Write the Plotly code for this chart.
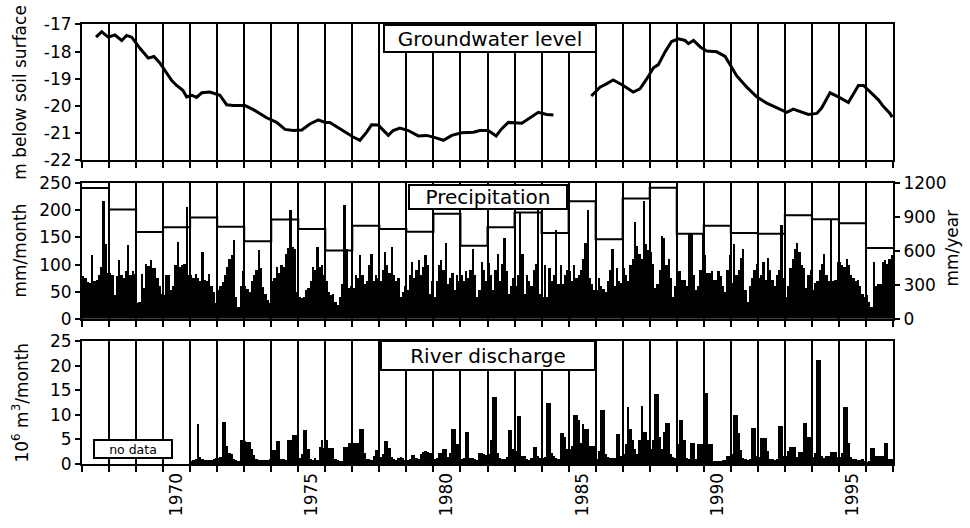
import plotly.graph_objects as go

# ---------------- data ----------------
years = list(range(1967, 1997))
x_end = 1997
label_years = [1970, 1975, 1980, 1985, 1990, 1995]

gw_ticks = [-22, -21, -20, -19, -18, -17]
precip_ticks = [0, 50, 100, 150, 200, 250]
annual_ticks = [0, 300, 600, 900, 1200]
discharge_ticks = [0, 5, 10, 15, 20, 25]

# groundwater level (m below soil surface), gap = no observations
gw_time = [1967.52, 1967.73, 1967.97, 1968.22, 1968.47, 1968.65, 1968.84, 1969.15, 1969.45, 1969.66,
           1969.88, 1970.13, 1970.32, 1970.50, 1970.73, 1970.87, 1971.06, 1971.24, 1971.43, 1971.73,
           1972.10, 1972.35, 1972.60, 1973.03, 1973.34, 1973.83, 1974.20, 1974.51, 1974.82, 1975.13,
           1975.43, 1975.74, 1975.99, 1976.17, 1976.66, 1977.03, 1977.28, 1977.53, 1977.71, 1977.96,
           1978.33, 1978.51, 1978.76, 1979.07, 1979.44, 1979.75, 1980.06, 1980.37, 1980.68, 1981.04,
           1981.48, 1981.72, 1982.03, 1982.32, 1982.52, 1982.77, 1983.27, 1983.57, 1983.88, 1984.19,
           1984.44, None,
           1985.84, 1986.16, 1986.40, 1986.65, 1987.02, 1987.39, 1987.64, 1987.89, 1988.14, 1988.32,
           1988.57, 1988.81, 1989.06, 1989.31, 1989.43, 1989.62, 1989.87, 1990.11, 1990.48, 1990.79,
           1990.97, 1991.22, 1991.59, 1991.96, 1992.33, 1992.70, 1993.07, 1993.31, 1993.56, 1993.87,
           1994.18, 1994.36, 1994.67, 1994.98, 1995.35, 1995.72, 1995.91, 1996.21, 1996.46, 1996.64,
           1996.89, 1996.97]
gw_level = [-17.47, -17.27, -17.47, -17.39, -17.59, -17.41, -17.47, -17.89, -18.24, -18.18,
            -18.42, -18.78, -19.07, -19.25, -19.43, -19.67, -19.61, -19.69, -19.52, -19.49,
            -19.61, -19.96, -19.99, -19.99, -20.14, -20.44, -20.61, -20.87, -20.91, -20.89,
            -20.67, -20.52, -20.61, -20.61, -20.91, -21.15, -21.27, -20.97, -20.70, -20.71,
            -21.09, -20.91, -20.82, -20.91, -21.11, -21.09, -21.17, -21.27, -21.09, -20.99,
            -20.97, -20.91, -20.91, -21.11, -20.85, -20.61, -20.64, -20.44, -20.24, -20.32,
            -20.34, None,
            -19.64, -19.31, -19.19, -19.05, -19.25, -19.49, -19.37, -19.01, -18.60, -18.48,
            -18.01, -17.63, -17.53, -17.59, -17.71, -17.59, -17.83, -17.98, -18.01, -18.18,
            -18.48, -18.90, -19.31, -19.67, -19.90, -20.08, -20.24, -20.12, -20.20, -20.32,
            -20.28, -20.08, -19.52, -19.67, -19.88, -19.25, -19.25, -19.52, -19.78, -20.02,
            -20.28, -20.42]

# monthly precipitation (mm/month), one row per year 1967..1996
precip_monthly = [
    [78, 75, 68, 65, 117, 70, 72, 80, 95, 217, 137, 85],
    [84, 80, 43, 78, 108, 80, 75, 87, 136, 80, 88, 82],
    [28, 30, 83, 57, 100, 97, 108, 94, 93, 75, 60, 45],
    [43, 81, 81, 52, 60, 98, 142, 96, 99, 100, 206, 81],
    [80, 75, 82, 75, 70, 123, 72, 70, 82, 60, 50, 28],
    [53, 60, 68, 80, 96, 110, 118, 145, 40, 22, 60, 87],
    [60, 55, 49, 70, 81, 90, 126, 93, 59, 46, 35, 28],
    [69, 75, 96, 85, 99, 95, 120, 130, 200, 132, 129, 49],
    [40, 38, 40, 52, 57, 70, 95, 90, 132, 96, 99, 80],
    [70, 50, 43, 46, 30, 25, 40, 63, 209, 129, 57, 60],
    [57, 81, 75, 117, 81, 63, 70, 99, 120, 69, 81, 75],
    [69, 90, 123, 99, 85, 132, 81, 69, 75, 40, 49, 60],
    [52, 80, 105, 75, 90, 108, 81, 95, 117, 99, 46, 70],
    [40, 70, 99, 108, 90, 140, 63, 75, 85, 52, 81, 70],
    [81, 69, 87, 75, 90, 129, 81, 40, 52, 105, 90, 70],
    [102, 81, 52, 90, 120, 69, 100, 149, 87, 46, 60, 75],
    [60, 80, 194, 120, 46, 81, 70, 60, 90, 100, 211, 46],
    [40, 99, 40, 93, 70, 80, 164, 63, 99, 63, 81, 90],
    [87, 70, 99, 75, 80, 90, 110, 140, 200, 75, 63, 52],
    [52, 75, 60, 55, 50, 70, 90, 129, 60, 93, 70, 65],
    [93, 80, 70, 99, 110, 179, 134, 120, 110, 217, 137, 126],
    [123, 100, 57, 63, 90, 152, 149, 99, 110, 75, 40, 60],
    [87, 87, 72, 72, 60, 158, 158, 80, 52, 60, 90, 158],
    [117, 84, 84, 87, 72, 72, 87, 78, 60, 50, 90, 117],
    [66, 137, 81, 90, 111, 129, 52, 31, 60, 75, 90, 100],
    [75, 80, 105, 72, 111, 90, 72, 60, 80, 90, 173, 75],
    [40, 60, 93, 110, 129, 140, 123, 99, 93, 57, 80, 90],
    [52, 66, 70, 90, 100, 120, 80, 70, 182, 69, 72, 105],
    [105, 99, 95, 110, 99, 80, 75, 69, 72, 60, 46, 40],
    [43, 30, 22, 105, 60, 63, 63, 105, 108, 100, 110, 117],
]

# annual precipitation (mm/year) 1967..1996
precip_yearly = [1157, 968, 769, 811, 896, 814, 687, 879, 794, 604,
                 823, 795, 770, 930, 647, 810, 940, 760, 1040, 704,
                 1065, 1160, 752, 823, 760, 752, 916, 882, 845, 627]

# monthly river discharge (10^6 m3/month), one row per year 1971..1996
discharge_start = 1971
discharge_monthly = [
    [0.6, 0.8, 1.0, 8.2, 1.5, 1.0, 0.9, 0.9, 0.9, 0.9, 1.0, 1.2],
    [1.2, 1.5, 8.5, 8.5, 3.6, 2.3, 2.0, 1.0, 0.8, 0.7, 4.9, 4.9],
    [4.6, 4.5, 4.5, 3.0, 1.8, 1.0, 0.8, 0.8, 0.8, 0.8, 0.9, 1.0],
    [2.8, 2.8, 4.8, 4.8, 1.0, 1.0, 0.8, 4.9, 4.9, 5.9, 6.0, 6.0],
    [1.2, 2.0, 6.9, 6.9, 3.0, 1.0, 0.8, 1.3, 0.8, 3.5, 4.9, 3.2],
    [4.9, 3.2, 3.2, 3.2, 1.0, 0.8, 0.7, 0.7, 3.4, 3.4, 4.2, 4.2],
    [4.2, 4.3, 4.3, 7.1, 7.1, 2.3, 1.0, 1.0, 0.9, 1.6, 2.8, 2.8],
    [1.5, 2.0, 4.6, 4.6, 3.3, 1.5, 1.0, 0.9, 1.2, 1.4, 1.2, 0.9],
    [0.9, 1.0, 1.8, 1.8, 1.2, 1.0, 2.0, 2.4, 2.6, 2.4, 2.3, 2.3],
    [1.0, 1.2, 2.3, 2.3, 3.1, 3.1, 1.5, 2.3, 7.1, 7.1, 4.0, 4.0],
    [1.0, 1.3, 6.6, 6.6, 1.3, 1.2, 1.0, 0.9, 2.3, 2.3, 2.1, 1.8],
    [2.0, 5.0, 13.7, 13.7, 2.3, 1.3, 1.0, 1.0, 1.5, 6.9, 6.9, 3.0],
    [2.6, 9.8, 9.8, 1.6, 1.6, 1.0, 0.8, 1.3, 3.5, 3.5, 1.6, 1.2],
    [1.2, 1.5, 12.4, 12.4, 2.3, 1.6, 1.2, 1.0, 6.3, 6.3, 5.6, 3.0],
    [3.0, 3.6, 10.0, 10.0, 8.9, 4.3, 8.1, 7.1, 7.1, 3.6, 3.6, 3.6],
    [1.0, 2.6, 11.0, 11.0, 2.0, 1.5, 1.2, 1.2, 1.3, 6.1, 6.1, 1.6],
    [2.0, 4.0, 11.6, 7.1, 5.0, 3.0, 2.0, 5.0, 11.9, 6.6, 6.6, 5.0],
    [3.0, 5.0, 14.3, 14.3, 5.6, 3.0, 6.6, 8.4, 8.4, 2.0, 1.5, 1.2],
    [4.0, 8.9, 8.9, 5.0, 1.3, 1.0, 4.3, 4.3, 1.0, 4.1, 4.1, 4.1],
    [14.5, 14.5, 4.1, 4.1, 0.7, 0.7, 0.6, 0.6, 0.8, 0.9, 1.6, 1.6],
    [2.0, 10.0, 10.0, 6.3, 2.8, 1.2, 1.0, 0.8, 1.0, 7.3, 7.3, 1.6],
    [1.5, 5.4, 5.4, 5.4, 2.6, 1.0, 1.0, 0.8, 1.0, 7.8, 7.8, 1.6],
    [1.6, 2.6, 3.4, 3.4, 3.4, 1.5, 2.4, 2.4, 8.4, 8.4, 5.6, 5.6],
    [1.5, 2.3, 21.1, 21.1, 1.6, 1.2, 1.6, 1.6, 2.4, 2.4, 2.4, 1.5],
    [1.5, 2.3, 11.6, 11.6, 4.3, 1.5, 1.0, 1.0, 0.9, 0.8, 1.0, 0.6],
    [0.5, 0.7, 3.2, 3.2, 1.6, 1.6, 1.6, 1.6, 4.3, 4.3, 1.0, 1.0],
]

# ---------------- build series ----------------
p_x, p_y = [], []
for yi, yr in enumerate(years):
    for m, v in enumerate(precip_monthly[yi]):
        p_x.append(yr + (m + 0.5) / 12)
        p_y.append(v)

d_x, d_y = [], []
for yi, row in enumerate(discharge_monthly):
    yr = discharge_start + yi
    for m, v in enumerate(row):
        d_x.append(yr + (m + 0.5) / 12)
        d_y.append(v)

year_edges = years + [x_end]
annual_step = precip_yearly + [precip_yearly[-1]]

# ---------------- figure ----------------
FONT = "DejaVu Sans"
W, H = 970, 528
xdom = [82 / W, 893 / W]
dom_top = [1 - 156 / H, 1 - 15 / H]
dom_mid = [1 - 321 / H, 1 - 180 / H]
dom_bot = [1 - 472 / H, 1 - 344 / H]

fig = go.Figure()
fig.add_trace(go.Scatter(x=gw_time, y=gw_level, mode="lines",
                         line=dict(color="black", width=3), connectgaps=False,
                         xaxis="x", yaxis="y", hoverinfo="skip"))
fig.add_trace(go.Bar(x=p_x, y=p_y, width=1 / 12,
                     marker=dict(color="black", line=dict(width=0)),
                     xaxis="x2", yaxis="y2"))
fig.add_trace(go.Scatter(x=year_edges, y=annual_step, mode="lines",
                         line=dict(color="black", width=2, shape="hv"),
                         xaxis="x2", yaxis="y4"))
fig.add_trace(go.Bar(x=d_x, y=d_y, width=1 / 12,
                     marker=dict(color="black", line=dict(width=0)),
                     xaxis="x3", yaxis="y3"))


def xaxis(anchor, labels):
    return dict(
        domain=xdom, anchor=anchor, range=[years[0], x_end],
        showline=True, mirror=True, linecolor="black", linewidth=2,
        zeroline=False, showgrid=False,
        tickmode="array", tickvals=[y + 0.5 for y in label_years],
        ticktext=[str(y) for y in label_years], ticks="",
        showticklabels=labels, tickangle=-90,
        tickfont=dict(family=FONT, size=17, color="black"),
        minor=dict(tickmode="array", tickvals=year_edges, ticks="outside",
                   ticklen=6, tickwidth=2, tickcolor="black",
                   showgrid=True, gridcolor="black", gridwidth=2),
    )


def yaxis(dom, anchor, rng, vals, side="left", **kw):
    d = dict(
        domain=dom, anchor=anchor, range=rng, side=side,
        tickmode="array", tickvals=vals, ticktext=[str(v) for v in vals],
        ticks="outside", ticklen=5, tickwidth=2, tickcolor="black",
        showline=True, linecolor="black", linewidth=2,
        showgrid=False, zeroline=False,
        tickfont=dict(family=FONT, size=17, color="black"),
    )
    d.update(kw)
    return d


fig.update_layout(
    width=W, height=H,
    margin=dict(l=0, r=0, t=0, b=0),
    paper_bgcolor="white", plot_bgcolor="white",
    showlegend=False, bargap=0,
    font=dict(family=FONT, size=17, color="black"),
    xaxis=xaxis("y", False),
    xaxis2=xaxis("y2", False),
    xaxis3=xaxis("y3", True),
    yaxis=yaxis(dom_top, "x", [gw_ticks[0], gw_ticks[-1]], gw_ticks, mirror=True),
    yaxis2=yaxis(dom_mid, "x2", [precip_ticks[0], precip_ticks[-1]], precip_ticks, mirror=True),
    yaxis3=yaxis(dom_bot, "x3", [discharge_ticks[0], discharge_ticks[-1]], discharge_ticks, mirror=True),
    yaxis4=yaxis(dom_mid, "x2", [annual_ticks[0], annual_ticks[-1]], annual_ticks,
                 side="right", overlaying="y2"),
)

box = dict(showarrow=False, bgcolor="white", bordercolor="black", borderwidth=2,
           borderpad=0, xref="paper", yref="paper", xanchor="center", yanchor="middle")
fig.add_annotation(text="Groundwater level", x=490 / W, y=1 - 29.5 / H,
                   width=210, height=25, font=dict(family=FONT, size=20), **box)
fig.add_annotation(text="Precipitation", x=488 / W, y=1 - 194 / H,
                   width=156, height=22, font=dict(family=FONT, size=20), **box)
fig.add_annotation(text="River discharge", x=488 / W, y=1 - 359.5 / H,
                   width=212, height=27, font=dict(family=FONT, size=20), **box)
fig.add_annotation(text="no data", x=133 / W, y=1 - 456 / H,
                   width=76, height=16, font=dict(family=FONT, size=12.5), **box)

title = dict(showarrow=False, xref="paper", yref="paper", textangle=-90,
             xanchor="center", yanchor="middle", font=dict(family=FONT, size=17))
fig.add_annotation(text="m below soil surface", x=20 / W, y=1 - 86 / H, **title)
fig.add_annotation(text="mm/month", x=20 / W, y=1 - 250 / H, **title)
fig.add_annotation(text="10<sup>6</sup> m<sup>3</sup>/month", x=20 / W, y=1 - 408 / H, **title)
fig.add_annotation(text="mm/year", x=952 / W, y=1 - 248 / H, **title)

fig.write_html("out.html")
